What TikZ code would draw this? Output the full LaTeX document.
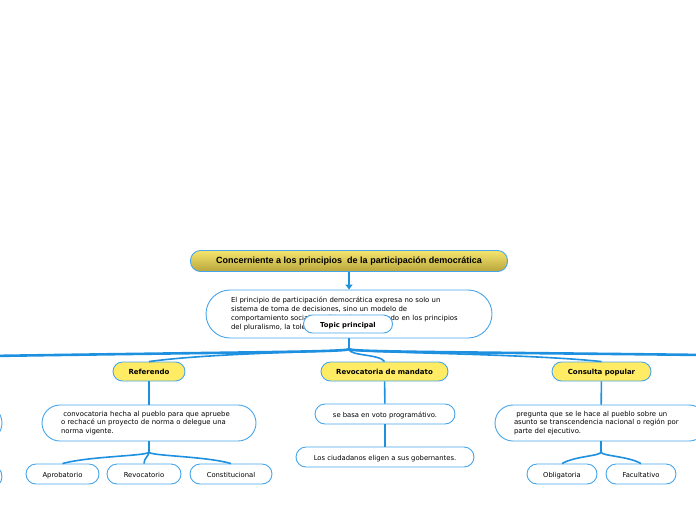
\documentclass[tikz,border=0pt]{standalone}
\usepackage{fontspec}
\setmainfont{DejaVu Sans}
\newfontfamily\titlefont{Liberation Sans}
\usetikzlibrary{arrows.meta,calc}
\definecolor{mapblue}{RGB}{30,144,224}
\definecolor{edgeblue}{RGB}{70,165,235}
\definecolor{topicyellow}{RGB}{255,236,100}
\definecolor{goldtop}{RGB}{245,230,110}
\definecolor{goldbot}{RGB}{185,165,60}

\begin{document}
\begin{tikzpicture}[x=1pt, y=-1pt,
    titlebox/.style={rectangle, draw=edgeblue, line width=0.9pt, rounded corners=10pt,
                 top color=goldtop, bottom color=goldbot, minimum width=317pt, minimum height=21pt,
                 font=\titlefont\bfseries\fontsize{9}{10}\selectfont},
    textbox/.style={rectangle, draw=edgeblue, line width=0.9pt, fill=white, align=left,
                 inner xsep=19pt, minimum height=36pt, rounded corners=18pt,
                 font=\fontsize{6.9}{8.8}\selectfont},
    leafbox/.style={rectangle, draw=edgeblue, line width=0.9pt, fill=white,
                 text height=1.6ex, text depth=.4ex,
                 minimum height=20pt, rounded corners=10pt, font=\fontsize{6.8}{8}\selectfont},
    branchbox/.style={rectangle, draw=edgeblue, line width=0.9pt, fill=topicyellow,
                 text height=1.6ex, text depth=.4ex,
                 minimum height=19pt, rounded corners=9.5pt, font=\bfseries\fontsize{7}{8}\selectfont},
    arr/.style={-{Triangle[length=5pt,width=7pt]}, line width=1.6pt, mapblue},
    link/.style={draw=mapblue, line width=1.6pt},
    trunk/.style={draw=mapblue, line width=2.6pt}
]
    \useasboundingbox (0,0) rectangle (696,520);
    \clip (0,0) rectangle (696,520);

    \node[titlebox] (title) at (349,261) {Concerniente a los principios\ \ de la participación democrática};
    \node[textbox, text width=236pt, inner xsep=25pt, minimum height=48pt, rounded corners=24pt] (main) at (349,314)
        {El principio de participación democrática expresa no solo un\\
         sistema de toma de decisiones, sino un modelo de\\
         comportamiento social y político, fundamentado en los principios\\
         del pluralismo, la tolerancia};
    \node[leafbox, minimum width=89pt, minimum height=18pt, rounded corners=9pt,
          font=\bfseries\fontsize{6.8}{8}\selectfont] (topic) at (348,324) {Topic principal};
    \coordinate (hub) at (349,349);
    \coordinate (offL) at (-10,356);
    \coordinate (offR) at (706,355);

    \node[branchbox, minimum width=72pt] (refer) at (149,371.5) {Referendo};
    \node[branchbox, minimum width=127pt] (revoc) at (384.5,371.5) {Revocatoria de mandato};
    \node[branchbox, minimum width=99pt] (consul) at (601.5,371.5) {Consulta popular};

    \node[textbox, text width=176pt] (referdesc) at (149,423)
        {\ convocatoria hecha al pueblo para que apruebe\\
         o rechacé un proyecto de norma o delegue una\\
         norma vigente.};
    \node[leafbox, minimum width=140pt] (revocdesc) at (385,414) {se basa en voto programátivo.};
    \node[leafbox, minimum width=178pt] (ciudad) at (385,457) {Los ciudadanos eligen a sus gobernantes.};
    \node[textbox, text width=174pt] (consuldesc) at (601,423)
        {\ pregunta que se le hace al pueblo sobre un\\
         asunto se transcendencia nacional o región por\\
         parte del ejecutivo.};

    \node[leafbox, minimum width=73pt] (aprob) at (62.5,474) {Aprobatorio};
    \node[leafbox, minimum width=74pt] (revocat) at (144,474) {Revocatorio};
    \node[leafbox, minimum width=82pt] (const) at (231,474) {Constitucional};
    \node[leafbox, minimum width=70pt] (oblig) at (562,474) {Obligatoria};
    \node[leafbox, minimum width=70pt] (facul) at (641,474) {Facultativo};

    \node[textbox, minimum width=124pt] (leftA) at (-60,423) {};
    \node[leafbox, minimum width=84pt, minimum height=23pt, rounded corners=11.5pt] (leftB) at (-40,476.5) {};

    \draw[arr] (title) -- (main);
    \draw[link] (main.south) -- (hub);
    \draw[trunk] (hub) .. controls (349,352) and (250,352) .. (offL);
    \draw[trunk] (hub) .. controls (349,352) and (450,352) .. (offR);
    \draw[link] (hub) .. controls (349,352) and (220,352) .. (refer.north);
    \draw[link] (hub) .. controls (349,356) and (380,354) .. (revoc.north);
    \draw[link] (hub) .. controls (349,353) and (520,353) .. (consul.north);

    \draw[link] (refer) -- (referdesc);
    \coordinate (rj) at (149,452);
    \draw[link] (referdesc.south) -- (rj);
    \draw[link] (rj) .. controls (149,456) and (90,456) .. (aprob.north);
    \draw[link] (rj) .. controls (149,456) and (144,458) .. (revocat.north);
    \draw[link] (rj) .. controls (149,456) and (205,456) .. (const.north);

    \draw[link] (revoc) -- (revocdesc);
    \draw[link] (revocdesc) -- (ciudad);

    \draw[link] (consul) -- (consuldesc);
    \coordinate (cj) at (601,452);
    \draw[link] (consuldesc.south) -- (cj);
    \draw[link] (cj) .. controls (601,456) and (575,456) .. (oblig.north);
    \draw[link] (cj) .. controls (601,456) and (628,456) .. (facul.north);
\end{tikzpicture}
\end{document}
